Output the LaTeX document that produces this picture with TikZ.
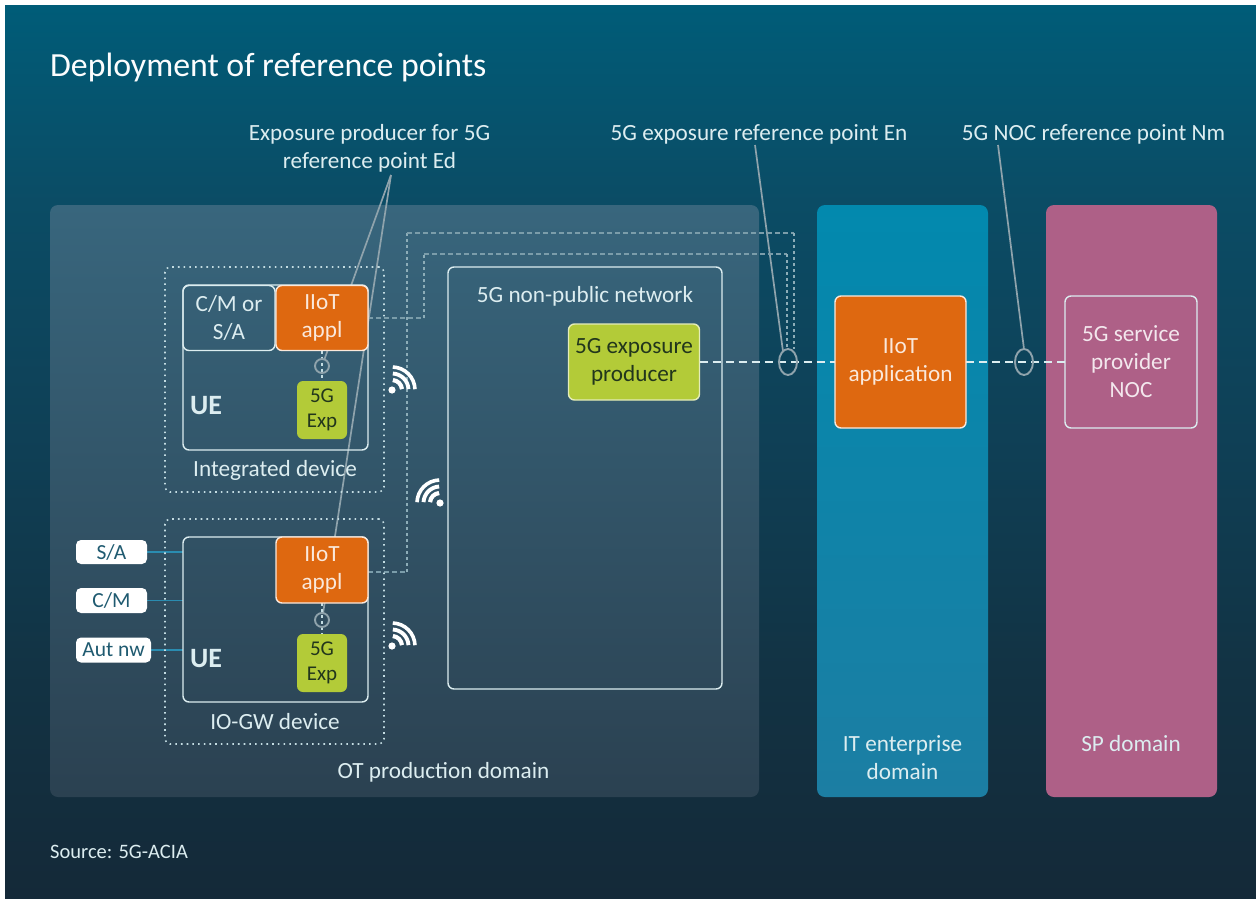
\documentclass[tikz,border=0pt]{standalone}
\usepackage{fontspec}
\setmainfont{Carlito}
\usetikzlibrary{shapes.geometric}
\definecolor{bgA}{HTML}{005C78}
\definecolor{bgB}{HTML}{0B4C65}
\definecolor{bgC}{HTML}{0F3F55}
\definecolor{bgD}{HTML}{123344}
\definecolor{bgE}{HTML}{142938}
\definecolor{txt}{HTML}{DCEDF0}
\definecolor{orng}{HTML}{DE6810}
\definecolor{lime}{HTML}{B3CB38}
\definecolor{limeL}{HTML}{E4ECB8}
\definecolor{lnk}{HTML}{C3DCE2}
\definecolor{refl}{HTML}{8FA3AC}
\definecolor{itA}{HTML}{0289AE}
\definecolor{itB}{HTML}{1C7EA3}
\definecolor{spc}{HTML}{AE6087}
\definecolor{tagt}{HTML}{1F5A70}
\definecolor{tagl}{HTML}{2A8CB0}
\definecolor{otA}{HTML}{38667D}
\definecolor{otB}{HTML}{2B4151}
\definecolor{limet}{HTML}{22361C}
\pgfdeclareverticalshading{bgshade}{100bp}{color(0bp)=(bgE); color(25bp)=(bgE); color(38bp)=(bgD); color(50bp)=(bgC); color(64bp)=(bgB); color(75bp)=(bgA); color(100bp)=(bgA)}
\pgfdeclarelayer{panels}
\pgfdeclarelayer{conn}
\pgfsetlayers{panels,conn,main}
\tikzset{
  lab/.style={text=txt,inner sep=0pt,align=center,font=\fontsize{23.2}{28}\selectfont},
  panelbox/.style={rounded corners=8pt,inner sep=0pt,outer sep=0pt},
  whitebox/.style={draw=txt,line width=1.4pt,rounded corners=6pt,inner sep=0pt,outer sep=0pt},
  dotbox/.style={draw=lnk,line width=1.6pt,dash pattern=on 1.6pt off 4.1pt,rounded corners=5pt,inner sep=0pt},
  orbox/.style={fill=orng,draw=white!85!orng,line width=1.4pt,rounded corners=6pt,inner sep=0pt,outer sep=0pt,text=white!85!orng,align=center,font=\fontsize{23.2}{28}\selectfont},
  limebox/.style={fill=lime,rounded corners=6pt,inner sep=0pt,outer sep=0pt,text=limet,align=center,font=\fontsize{21}{25}\selectfont},
  tagbox/.style={fill=white,rounded corners=5pt,inner sep=0pt,outer sep=0pt,text=tagt,font=\fontsize{21.5}{24}\selectfont},
  refring/.style={draw=refl,line width=1.9pt,inner sep=0pt,outer sep=0pt},
  refline/.style={draw=refl,line width=1.7pt},
  mainlink/.style={draw=txt,line width=1.5pt,dash pattern=on 8pt off 5pt},
  hlink/.style={draw=lnk!60!bgC,line width=1.1pt,dash pattern=on 5pt off 3pt},
  vlink/.style={draw=lnk!70!bgC,line width=1.1pt,dash pattern=on 3pt off 3pt},
  taglink/.style={draw=tagl,line width=1.5pt},
  wifi/.pic={
    \fill[white] (0,0) circle[radius=3.6pt];
    \draw[white,line width=4.2pt] (5:10pt) arc[start angle=5,end angle=85,radius=10pt];
    \draw[white,line width=3.9pt] (3:16.5pt) arc[start angle=3,end angle=87,radius=16.5pt];
    \draw[white,line width=3.6pt] (2:23pt) arc[start angle=2,end angle=88,radius=23pt];
  }
}
\begin{document}
\begin{tikzpicture}[x=1pt,y=-1pt]
\useasboundingbox (0,0) rectangle (1256,899);
\begin{pgfonlayer}{panels}
  \node[shading=bgshade,minimum width=1251pt,minimum height=893pt,inner sep=0pt,outer sep=0pt] (bg) at (630.5,452.5) {};
  \node[panelbox,top color=otA,bottom color=otB,minimum width=709pt,minimum height=592pt] (ot) at (404.5,501) {};
  \node[panelbox,top color=itA,bottom color=itB,minimum width=171pt,minimum height=592pt] (it) at (902.5,501) {};
  \node[panelbox,fill=spc,minimum width=171pt,minimum height=592pt] (sp) at (1131.5,501) {};
\end{pgfonlayer}

% headings
\node[lab,anchor=west,text=white!92!txt,font=\fontsize{33.8}{38}\selectfont] (title) at (50,67) {Deployment of reference points};
\node[lab] (ed) at (369.5,148) {Exposure producer for 5G\\reference point Ed};
\node[lab] (enl) at (759,134) {5G exposure reference point En};
\node[lab] (nml) at (1093.5,134) {5G NOC reference point Nm};
\node[lab,anchor=west,font=\fontsize{20.5}{22}\selectfont] (src) at (50,852) {Source: 5G-ACIA};
\node[lab] (otl) at (443.5,772) {OT production domain};
\node[lab] (itl) at (902.5,758) {IT enterprise\\domain};
\node[lab] (spl) at (1131,744) {SP domain};

% integrated device
\node[dotbox,minimum width=219pt,minimum height=225pt] (dev1) at (274.5,379.5) {};
\node[whitebox,minimum width=185pt,minimum height=165pt] (ue1) at (275.5,367.5) {};
\node[whitebox,minimum width=92pt,minimum height=65pt,lab,inner sep=0pt] (cm) at (229,318) {C/M or\\S/A};
\node[orbox,minimum width=92pt,minimum height=65pt] (ap1) at (322,318) {IIoT\\appl};
\node[limebox,minimum width=50pt,minimum height=58pt] (ex1) at (322,410) {5G\\Exp};
\node[refring,circle,minimum size=14pt] (c1) at (322,366) {};
\node[lab,anchor=west,font=\fontsize{28}{30}\selectfont\bfseries] (ue1l) at (190,406) {UE};
\node[lab] (dev1l) at (275,470) {Integrated device};

% IO-GW device
\node[dotbox,minimum width=219pt,minimum height=225pt] (dev2) at (274.5,631.5) {};
\node[whitebox,minimum width=185pt,minimum height=165pt] (ue2) at (275.5,619.5) {};
\node[orbox,minimum width=92pt,minimum height=66pt] (ap2) at (322,570) {IIoT\\appl};
\node[limebox,minimum width=50pt,minimum height=58pt] (ex2) at (322,663) {5G\\Exp};
\node[refring,circle,minimum size=14pt] (c2) at (322,620) {};
\node[lab,anchor=west,font=\fontsize{28}{30}\selectfont\bfseries] (ue2l) at (190,659) {UE};
\node[lab] (dev2l) at (275,722) {IO-GW device};
\node[tagbox,minimum width=71pt,minimum height=24pt] (sa) at (111.5,552) {S/A};
\node[tagbox,minimum width=71pt,minimum height=25pt] (cmt) at (111.5,600.5) {C/M};
\node[tagbox,minimum width=75pt,minimum height=25pt] (aut) at (113.5,650) {Aut nw};

% non-public network
\node[whitebox,minimum width=274pt,minimum height=422pt] (npn) at (585,478) {};
\node[lab] (npnl) at (585,296) {5G non-public network};
\node[fill=lime,draw=limeL,line width=1.4pt,rounded corners=6pt,inner sep=0pt,outer sep=0pt,align=center,text=limet,font=\fontsize{23.2}{28}\selectfont,minimum width=131pt,minimum height=76pt] (prod) at (634,362) {5G exposure\\producer};

% right-hand systems
\node[orbox,minimum width=131pt,minimum height=132pt] (app) at (900.5,362) {IIoT\\application};
\node[whitebox,lab,text=white!85!spc,minimum width=132pt,minimum height=132pt] (noc) at (1131,362) {5G service\\provider\\NOC};

% reference rings
\node[refring,ellipse,minimum width=18pt,minimum height=26pt] (en) at (788,362) {};
\node[refring,ellipse,minimum width=18pt,minimum height=26pt] (nm) at (1024,362) {};

% wifi
\pic (w1) at (392,390) {wifi};
\pic[rotate=90] (w2) at (440,503) {wifi};
\pic (w3) at (392,646) {wifi};

\begin{pgfonlayer}{conn}
  \coordinate (edtip) at (391,175);
  \coordinate (entip) at (755,145);
  \coordinate (nmtip) at (998,145);
  \coordinate (a1) at (424,318);
  \coordinate (a2) at (424,254);
  \coordinate (a3) at (787,254);
  \coordinate (b1) at (407,572);
  \coordinate (b2) at (407,233);
  \coordinate (b3) at (794,233);
  \draw[refline] (edtip) -- (c1);
  \draw[refline] (edtip) -- (c2);
  \draw[refline] (entip) -- (en.115);
  \draw[refline] (nmtip) -- (nm.north);
  \draw[hlink] (ap1.east) -- (a1);
  \draw[vlink] (a1) -- (a2);
  \draw[hlink] (a2) -- (a3);
  \draw[vlink] (a3) -- (a3 |- en.north);
  \draw[hlink] (ap2.east |- b1) -- (b1);
  \draw[vlink] (b1) -- (b2);
  \draw[hlink] (b2) -- (b3);
  \draw[vlink] (b3) -- (b3 |- en.north);
  \draw[mainlink] (prod.east) -- (app.west);
  \draw[mainlink] (app.east) -- (noc.west);
  \draw[vlink,draw=lnk] (ap1.south) -- (ex1.north);
  \draw[vlink,draw=lnk] (ap2.south) -- (ex2.north);
  \draw[taglink] (sa.east) -- (sa.east -| ue2.west);
  \draw[taglink] (cmt.east) -- (cmt.east -| ue2.west);
  \draw[taglink] (aut.east) -- (aut.east -| ue2.west);
\end{pgfonlayer}
\end{tikzpicture}
\end{document}
